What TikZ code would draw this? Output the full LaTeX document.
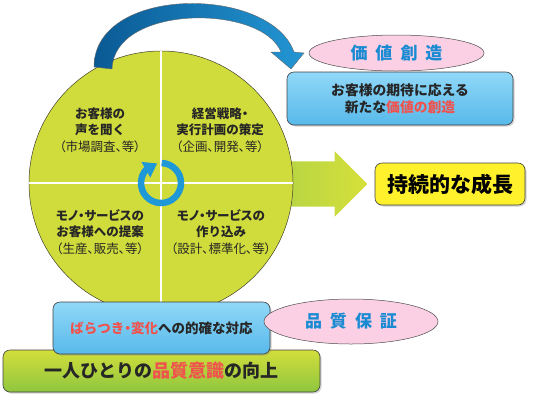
\documentclass[tikz,border=0pt]{standalone}
\usepackage{fontspec}
\setmainfont{Noto Sans CJK JP}
\usetikzlibrary{shapes.geometric, shapes.arrows, shadows, arrows.meta, bending}
\definecolor{wheelgreen}{HTML}{D0DC3B}
\definecolor{growleft}{HTML}{B2D346}
\definecolor{growright}{HTML}{D6E03A}
\definecolor{swoopdark}{HTML}{0A5A94}
\definecolor{swooplight}{HTML}{2396D4}
\definecolor{ringblue}{HTML}{1E98D6}
\definecolor{skytop}{HTML}{90D8F8}
\definecolor{skybottom}{HTML}{58B9EA}
\definecolor{tagpink}{HTML}{FBD0E4}
\definecolor{tagblue}{HTML}{1A8BD2}
\definecolor{accentred}{HTML}{F0524E}
\definecolor{goalyellow}{HTML}{FFF22C}
\definecolor{basetop}{HTML}{D3DE3B}
\definecolor{basebottom}{HTML}{8EC63F}

\begin{document}
\begin{tikzpicture}[x=1pt, y=1pt,
  panel/.style={draw=black!75, line width=0.6pt, rounded corners=7pt,
    drop shadow={shadow xshift=1.5pt, shadow yshift=-1.5pt, opacity=0.35}},
  bluepanel/.style={panel, top color=skytop, bottom color=skybottom, text=black!85},
  tag/.style={ellipse, draw=black!70, line width=0.5pt, fill=tagpink, inner sep=0pt,
    text=tagblue, font=\fontsize{17pt}{17pt}\selectfont\bfseries},
  quad/.style={align=center, text=black!85, font=\fontsize{12.5pt}{16.5pt}\selectfont\bfseries}]
\useasboundingbox (0,0) rectangle (534,-402);
% goal and growth arrow (behind the wheel)
\node[panel, fill=goalyellow, minimum width=150pt, minimum height=42pt,
  font=\fontsize{21pt}{21pt}\selectfont\bfseries] (goal) at (450,-184) {持続的な成長};
\node[single arrow, single arrow head extend=10pt, minimum height=98pt,
  inner xsep=0pt, inner ysep=22.5pt, left color=growleft, right color=growright, anchor=tip]
  (growth) at ([xshift=-7pt]goal.west) {};
% the wheel
\node[circle, draw=black!70!olive, line width=0.5pt, fill=wheelgreen, minimum size=264pt,
  inner sep=0pt] (wheel) at (161,-183) {};
\draw[white, line width=2.5pt, shorten <=0.6pt, shorten >=0.6pt] (wheel.north) -- (wheel.south);
\draw[white, line width=2.5pt, shorten <=0.6pt, shorten >=0.6pt] (wheel.west) -- (wheel.east);
\node[quad] (listen) at (100,-130) {お客様の\\声を聞く\\{\mdseries\addfontfeature{RawFeature=+palt}（市場調査、等）}};
\node[quad] (plan) at (220,-130) {{\addfontfeature{RawFeature=+palt}経営戦略・}\\実行計画の策定\\{\mdseries\addfontfeature{RawFeature=+palt}（企画、開発、等）}};
\node[quad] (propose) at (100,-232) {{\addfontfeature{RawFeature=+palt}モノ・サービスの}\\お客様への提案\\{\mdseries\addfontfeature{RawFeature=+palt}（生産、販売、等）}};
\node[quad] (build) at (221,-232) {{\addfontfeature{RawFeature=+palt}モノ・サービスの}\\作り込み\\{\mdseries\addfontfeature{RawFeature=+palt}（設計、標準化、等）}};
% cycle arrow
\draw[line width=6.5pt, ringblue, -{Triangle[length=13pt, width=17pt]}]
  (wheel.center) ++(88:20) arc[start angle=88, end angle=-259, radius=20];
% swoop to value creation
\draw[draw=black!60, line width=0.4pt, left color=swoopdark, right color=swooplight]
  (94,-67) .. controls (94,15) and (270,15) .. (294,-52) -- (304,-53) -- (291,-69)
  -- (271,-52) -- (281,-52) .. controls (262,-4) and (114,-4) .. (112,-69) -- cycle;
% value creation
\node[bluepanel, minimum width=226pt, minimum height=53pt, align=center,
  font=\fontsize{13.8pt}{17pt}\selectfont\bfseries] (promise) at (400,-98.5)
  {お客様の期待に応える\\新たな\textcolor{accentred}{価値の創造}};
\node[tag, minimum width=175pt, minimum height=36pt] (valuetag) at (396.5,-53)
  {価\hspace{8pt}値\hspace{8pt}創\hspace{8pt}造};
% quality assurance base
\node[panel, top color=basetop, middle color=basetop!90!basebottom, bottom color=basebottom,
  minimum width=317pt, minimum height=42pt, text=black!85,
  font=\fontsize{18pt}{18pt}\selectfont\bfseries] (awareness) at (161.5,-371)
  {一人ひとりの\textcolor{accentred}{品質意識}の向上};
\node[bluepanel, minimum width=217pt, minimum height=52pt,
  font=\fontsize{13.5pt}{13.5pt}\selectfont\bfseries] (variance) at (161.5,-328)
  {\textcolor{accentred}{ばらつき{\addfontfeature{RawFeature=+palt}・}変化}への的確な対応};
\node[tag, minimum width=174pt, minimum height=45pt] (qatag) at (351,-321.5)
  {品\hspace{8pt}質\hspace{8pt}保\hspace{8pt}証};
\end{tikzpicture}
\end{document}
